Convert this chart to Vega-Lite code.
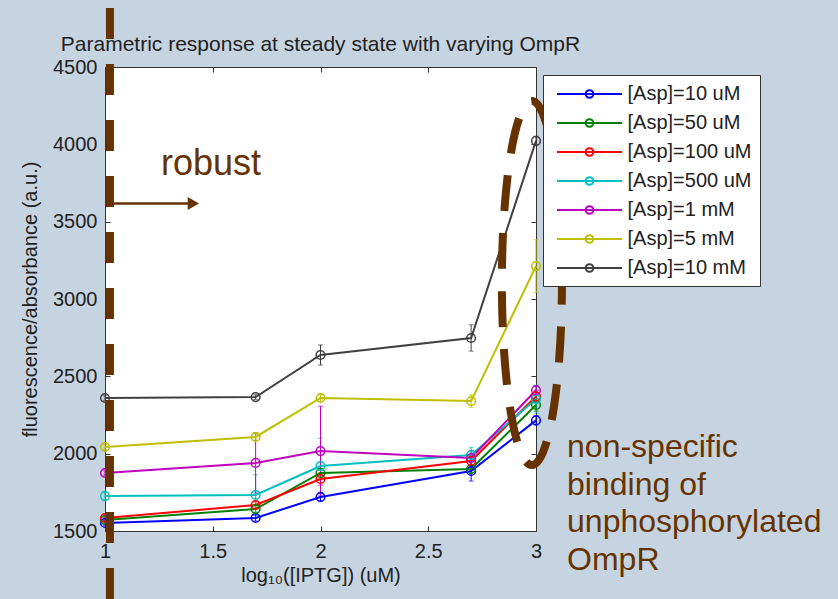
{
  "$schema": "https://vega.github.io/schema/vega-lite/v6.json",
  "width": 431,
  "height": 464,
  "autosize": {"type": "none"},
  "padding": {"left": 105, "top": 67, "right": 302, "bottom": 68},
  "background": "#c6d4e1",
  "title": {
    "text": "Parametric response at steady state with varying OmpR",
    "fontSize": 21,
    "font": "Liberation Sans",
    "fontWeight": "normal",
    "color": "#222222",
    "anchor": "middle",
    "frame": "group",
    "baseline": "alphabetic",
    "offset": -68
  },
  "config": {
    "view": {"fill": "white", "stroke": "#333333", "strokeWidth": 1},
    "font": "Liberation Sans",
    "axis": {
      "domain": false,
      "grid": false,
      "ticks": true,
      "tickSize": -5,
      "tickColor": "#333333",
      "labelFont": "Liberation Sans",
      "labelFontSize": 20,
      "labelColor": "#222222",
      "labelFlush": false,
      "labelOverlap": false,
      "titleFont": "Liberation Sans",
      "titleFontSize": 20,
      "titleFontWeight": "normal",
      "titleColor": "#222222"
    }
  },
  "datasets": {
    "resp": [
      {"asp": "[Asp]=10 uM", "iptg": 1, "val": 1552, "err": 15},
      {"asp": "[Asp]=10 uM", "iptg": 1.699, "val": 1584, "err": 20},
      {"asp": "[Asp]=10 uM", "iptg": 2, "val": 1720, "err": 30},
      {"asp": "[Asp]=10 uM", "iptg": 2.699, "val": 1888, "err": 65},
      {"asp": "[Asp]=10 uM", "iptg": 3, "val": 2215, "err": 30},
      {"asp": "[Asp]=50 uM", "iptg": 1, "val": 1571, "err": 15},
      {"asp": "[Asp]=50 uM", "iptg": 1.699, "val": 1642, "err": 20},
      {"asp": "[Asp]=50 uM", "iptg": 2, "val": 1875, "err": 30},
      {"asp": "[Asp]=50 uM", "iptg": 2.699, "val": 1901, "err": 30},
      {"asp": "[Asp]=50 uM", "iptg": 3, "val": 2315, "err": 40},
      {"asp": "[Asp]=100 uM", "iptg": 1, "val": 1584, "err": 20},
      {"asp": "[Asp]=100 uM", "iptg": 1.699, "val": 1668, "err": 20},
      {"asp": "[Asp]=100 uM", "iptg": 2, "val": 1836, "err": 40},
      {"asp": "[Asp]=100 uM", "iptg": 2.699, "val": 1953, "err": 30},
      {"asp": "[Asp]=100 uM", "iptg": 3, "val": 2370, "err": 40},
      {"asp": "[Asp]=500 uM", "iptg": 1, "val": 1726, "err": 30},
      {"asp": "[Asp]=500 uM", "iptg": 1.699, "val": 1733, "err": 130},
      {"asp": "[Asp]=500 uM", "iptg": 2, "val": 1920, "err": 180},
      {"asp": "[Asp]=500 uM", "iptg": 2.699, "val": 1991, "err": 50},
      {"asp": "[Asp]=500 uM", "iptg": 3, "val": 2353, "err": 90},
      {"asp": "[Asp]=1 mM", "iptg": 1, "val": 1875, "err": 15},
      {"asp": "[Asp]=1 mM", "iptg": 1.699, "val": 1940, "err": 195},
      {"asp": "[Asp]=1 mM", "iptg": 2, "val": 2017, "err": 290},
      {"asp": "[Asp]=1 mM", "iptg": 2.699, "val": 1972, "err": 50},
      {"asp": "[Asp]=1 mM", "iptg": 3, "val": 2410, "err": 30},
      {"asp": "[Asp]=5 mM", "iptg": 1, "val": 2043, "err": 15},
      {"asp": "[Asp]=5 mM", "iptg": 1.699, "val": 2108, "err": 20},
      {"asp": "[Asp]=5 mM", "iptg": 2, "val": 2360, "err": 20},
      {"asp": "[Asp]=5 mM", "iptg": 2.699, "val": 2340, "err": 40},
      {"asp": "[Asp]=5 mM", "iptg": 3, "val": 3213, "err": 170},
      {"asp": "[Asp]=10 mM", "iptg": 1, "val": 2360, "err": 15},
      {"asp": "[Asp]=10 mM", "iptg": 1.699, "val": 2366, "err": 15},
      {"asp": "[Asp]=10 mM", "iptg": 2, "val": 2638, "err": 65},
      {"asp": "[Asp]=10 mM", "iptg": 2.699, "val": 2748, "err": 85},
      {"asp": "[Asp]=10 mM", "iptg": 3, "val": 4022, "err": 30}
    ]
  },
  "layer": [
    {
      "data": {"name": "resp"},
      "mark": {"type": "errorbar", "ticks": true, "thickness": 1},
      "encoding": {
        "x": {"field": "iptg", "type": "quantitative", "scale": {"domain": [1, 3], "nice": false, "zero": false}, "axis": null},
        "y": {"field": "val", "type": "quantitative", "scale": {"domain": [1500, 4500], "nice": false, "zero": false}, "axis": null},
        "yError": {"field": "err"},
        "color": {
          "field": "asp", "type": "nominal", "legend": null,
          "scale": {
            "domain": ["[Asp]=10 uM", "[Asp]=50 uM", "[Asp]=100 uM", "[Asp]=500 uM", "[Asp]=1 mM", "[Asp]=5 mM", "[Asp]=10 mM"],
            "range": ["#0000ff", "#008000", "#ff0000", "#00bfbf", "#bf00bf", "#bfbf00", "#404040"]
          }
        }
      }
    },
    {
      "data": {"name": "resp"},
      "mark": {"type": "line", "strokeWidth": 2},
      "encoding": {
        "x": {
          "field": "iptg", "type": "quantitative",
          "axis": {"orient": "bottom", "values": [1, 1.5, 2, 2.5, 3], "format": "~g", "labelPadding": 15, "title": "log₁₀([IPTG])  (uM)", "titlePadding": 4}
        },
        "y": {
          "field": "val", "type": "quantitative",
          "axis": {"orient": "left", "values": [1500, 2000, 2500, 3000, 3500, 4000, 4500], "format": "d", "labelPadding": 13, "title": "fluorescence/absorbance (a.u.)", "titlePadding": 12}
        },
        "color": {
          "field": "asp", "type": "nominal",
          "scale": {
            "domain": ["[Asp]=10 uM", "[Asp]=50 uM", "[Asp]=100 uM", "[Asp]=500 uM", "[Asp]=1 mM", "[Asp]=5 mM", "[Asp]=10 mM"],
            "range": ["#0000ff", "#008000", "#ff0000", "#00bfbf", "#bf00bf", "#bfbf00", "#404040"]
          },
          "legend": {
            "title": null,
            "orient": "none",
            "legendX": 438,
            "legendY": 8,
            "fillColor": "white",
            "strokeColor": "#333333",
            "padding": 8,
            "labelFont": "Liberation Sans",
            "labelFontSize": 20,
            "labelColor": "#222222",
            "labelExpr": "datum.label + '   '",
            "symbolType": "M-3.25,0H3.25M0.38,0A0.38,0.38,0,1,1,-0.38,0A0.38,0.38,0,1,1,0.38,0",
            "symbolSize": 400,
            "symbolStrokeWidth": 2,
            "symbolFillColor": "transparent",
            "symbolOpacity": 1,
            "rowPadding": 8,
            "symbolOffset": 27.5,
            "labelOffset": 27
          }
        }
      }
    },
    {
      "data": {"name": "resp"},
      "mark": {"type": "point", "filled": false, "size": 75, "strokeWidth": 1.5, "opacity": 1},
      "encoding": {
        "x": {"field": "iptg", "type": "quantitative", "axis": {"orient": "top", "values": [1, 1.5, 2, 2.5, 3], "labels": false, "title": null}},
        "y": {"field": "val", "type": "quantitative", "axis": {"orient": "right", "values": [1500, 2000, 2500, 3000, 3500, 4000, 4500], "labels": false, "title": null}},
        "color": {
          "field": "asp", "type": "nominal", "legend": null,
          "scale": {
            "domain": ["[Asp]=10 uM", "[Asp]=50 uM", "[Asp]=100 uM", "[Asp]=500 uM", "[Asp]=1 mM", "[Asp]=5 mM", "[Asp]=10 mM"],
            "range": ["#0000ff", "#008000", "#ff0000", "#00bfbf", "#bf00bf", "#bfbf00", "#404040"]
          }
        }
      }
    },
    {
      "data": {"values": [{"x": 1.023, "top": 4881, "bottom": 1050}]},
      "mark": {"type": "rule", "color": "#663300", "strokeWidth": 8, "strokeDash": [31, 25]},
      "encoding": {
        "x": {"field": "x", "type": "quantitative", "axis": null},
        "y": {"field": "top", "type": "quantitative", "axis": null},
        "y2": {"field": "bottom"}
      }
    },
    {
      "data": {"values": [{"x": 1.0, "x2": 1.385, "y": 3617}]},
      "mark": {"type": "rule", "color": "#663300", "strokeWidth": 2.5},
      "encoding": {
        "x": {"field": "x", "type": "quantitative", "axis": null},
        "x2": {"field": "x2"},
        "y": {"field": "y", "type": "quantitative", "axis": null}
      }
    },
    {
      "data": {"values": [{"x": 1.41, "y": 3617}]},
      "mark": {"type": "point", "shape": "triangle-right", "filled": true, "color": "#663300", "size": 170, "opacity": 1},
      "encoding": {
        "x": {"field": "x", "type": "quantitative", "axis": null},
        "y": {"field": "y", "type": "quantitative", "axis": null}
      }
    },
    {
      "data": {"values": [{"x": 1.492, "y": 3802, "label": "robust"}]},
      "mark": {"type": "text", "color": "#663300", "font": "Liberation Sans", "fontSize": 36, "align": "center", "baseline": "alphabetic"},
      "encoding": {
        "x": {"field": "x", "type": "quantitative", "axis": null},
        "y": {"field": "y", "type": "quantitative", "axis": null},
        "text": {"field": "label"}
      }
    },
    {
      "data": {"values": [{"x": 2.981, "y": 3103}]},
      "mark": {
        "type": "point",
        "shape": "M0,-1A0.165,1,0,1,1,0,1A0.165,1,0,1,1,0,-1",
        "filled": false,
        "color": "#663300",
        "strokeWidth": 8,
        "strokeDash": [36, 22],
        "size": 132496,
        "opacity": 1
      },
      "encoding": {
        "x": {"field": "x", "type": "quantitative", "axis": null},
        "y": {"field": "y", "type": "quantitative", "axis": null}
      }
    },
    {
      "data": {"values": [{"x": 3.144, "y": 1978}]},
      "mark": {
        "type": "text",
        "text": ["non-specific", "binding of", "unphosphorylated", "OmpR"],
        "color": "#663300",
        "font": "Liberation Sans",
        "fontSize": 32,
        "lineHeight": 37.5,
        "align": "left",
        "baseline": "alphabetic"
      },
      "encoding": {
        "x": {"field": "x", "type": "quantitative", "axis": null},
        "y": {"field": "y", "type": "quantitative", "axis": null}
      }
    }
  ],
  "resolve": {
    "axis": {"x": "independent", "y": "independent"},
    "scale": {"color": "independent"},
    "legend": {"color": "independent"}
  }
}
